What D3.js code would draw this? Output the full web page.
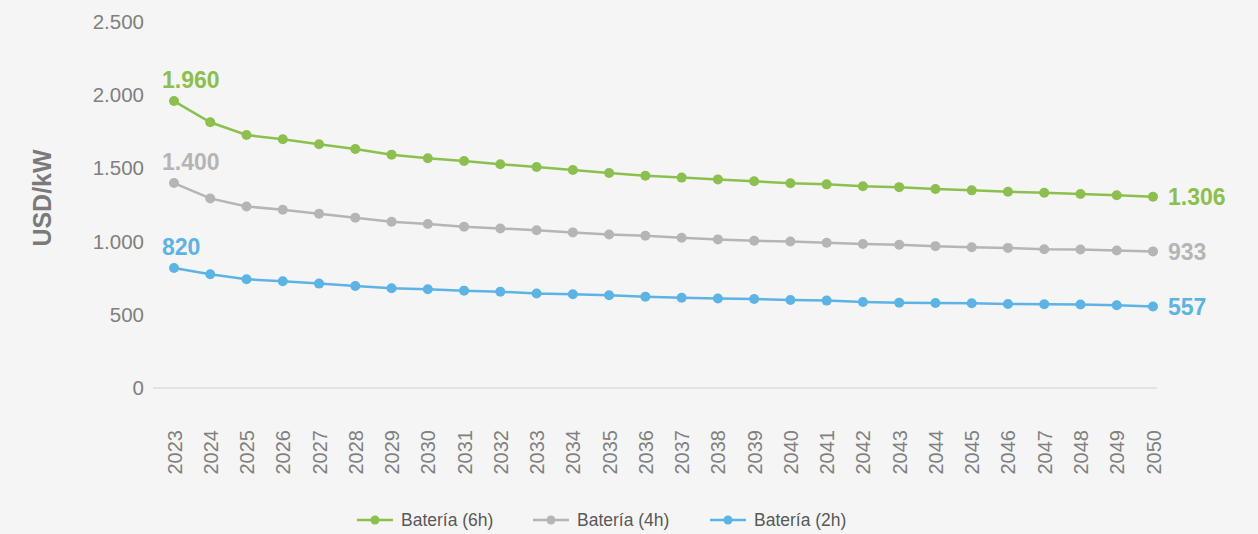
<!DOCTYPE html>
<html>
<head>
<meta charset="utf-8">
<script src="https://cdn.jsdelivr.net/npm/d3@7"></script>
<style>
  html, body { margin: 0; padding: 0; background: #f5f5f5; }
  svg { display: block; }
  text { font-family: "Liberation Sans", Arial, Helvetica, sans-serif; }
</style>
</head>
<body>
<script>
const years = d3.range(2023, 2051).map(String);
const yTicks = [0, 500, 1000, 1500, 2000, 2500];
const seriesNames = ["Batería (6h)", "Batería (4h)", "Batería (2h)"];
const seriesColors = ["#8cc04e", "#b5b5b5", "#5cb3e6"];
const bat6h = [1960, 1815, 1728, 1699, 1665, 1633, 1594, 1569, 1551, 1528, 1510, 1489, 1469, 1450,
               1437, 1425, 1412, 1398, 1391, 1378, 1372, 1359, 1350, 1341, 1334, 1325, 1316, 1306];
const bat4h = [1400, 1295, 1240, 1218, 1190, 1163, 1136, 1120, 1102, 1090, 1077, 1063, 1049, 1040,
               1026, 1015, 1006, 1001, 992, 983, 978, 969, 961, 957, 948, 946, 939, 933];
const bat2h = [820, 777, 743, 729, 713, 697, 681, 674, 665, 658, 645, 640, 633, 624,
               617, 611, 608, 601, 597, 588, 583, 581, 579, 574, 572, 570, 565, 557];
const seriesValues = [bat6h, bat4h, bat2h];

const W = 1258, H = 534;
const fmt = v => d3.format(",")(v).replace(/,/g, ".");

const svg = d3.select("body").append("svg").attr("width", W).attr("height", H);
svg.append("rect").attr("width", W).attr("height", H).attr("fill", "#f5f5f5");

const x = d3.scalePoint().domain(years).range([174, 1153]);
const y = d3.scaleLinear().domain([0, 2500]).range([388, 22]);

// baseline
svg.append("line").attr("x1", 153).attr("x2", 1157)
  .attr("y1", y(0)).attr("y2", y(0))
  .attr("stroke", "#dddddd").attr("stroke-width", 1.5);

// y axis
const yAxis = svg.append("g").attr("transform", "translate(148,0)")
  .call(d3.axisLeft(y).tickValues(yTicks).tickFormat(fmt).tickSize(0).tickPadding(4));
yAxis.select(".domain").remove();
yAxis.selectAll("text").attr("font-size", 20.5).attr("fill", "#808080")
  .attr("font-family", "'Liberation Sans', Arial, sans-serif");

// x axis
const xAxis = svg.append("g").attr("transform", `translate(0,${y(0)})`)
  .call(d3.axisBottom(x).tickSize(0));
xAxis.select(".domain").remove();
xAxis.selectAll("text")
  .attr("font-size", 20).attr("fill", "#808080")
  .attr("font-family", "'Liberation Sans', Arial, sans-serif")
  .attr("text-anchor", "end")
  .attr("transform", "rotate(-90)")
  .attr("x", -42).attr("y", 0).attr("dy", "0.35em");

// y label
svg.append("text")
  .attr("transform", "translate(51,198) rotate(-90)")
  .attr("text-anchor", "middle")
  .attr("font-size", 25).attr("font-weight", "bold").attr("fill", "#7a7a7a")
  .text("USD/kW");

const line = d3.line().x((d, i) => x(years[i])).y(d => y(d));

seriesValues.forEach((vals, si) => {
  const c = seriesColors[si];
  svg.append("path").datum(vals).attr("d", line)
    .attr("fill", "none").attr("stroke", c).attr("stroke-width", 2.5);
  svg.append("g").selectAll("circle").data(vals).join("circle")
    .attr("cx", (d, i) => x(years[i])).attr("cy", d => y(d)).attr("r", 5)
    .attr("fill", c);
  // first label
  svg.append("text")
    .attr("x", x(years[0]) - 12).attr("y", y(vals[0]) - 13)
    .attr("font-size", 23).attr("font-weight", "bold").attr("fill", c)
    .text(fmt(vals[0]));
  // last label
  const n = vals.length - 1;
  svg.append("text")
    .attr("x", x(years[n]) + 15).attr("y", y(vals[n])).attr("dy", "0.36em")
    .attr("font-size", 23).attr("font-weight", "bold").attr("fill", c)
    .text(fmt(vals[n]));
});

// legend
const legendX = [357, 533, 710];
const lg = svg.append("g");
seriesNames.forEach((name, i) => {
  const g = lg.append("g").attr("transform", `translate(${legendX[i]},520)`);
  g.append("line").attr("x1", 0).attr("x2", 36).attr("y1", 0).attr("y2", 0)
    .attr("stroke", seriesColors[i]).attr("stroke-width", 2.5);
  g.append("circle").attr("cx", 18).attr("cy", 0).attr("r", 4.5).attr("fill", seriesColors[i]);
  g.append("text").attr("x", 44).attr("y", 0).attr("dy", "0.35em")
    .attr("font-size", 17.5).attr("fill", "#595959").text(name);
});
</script>
</body>
</html>
